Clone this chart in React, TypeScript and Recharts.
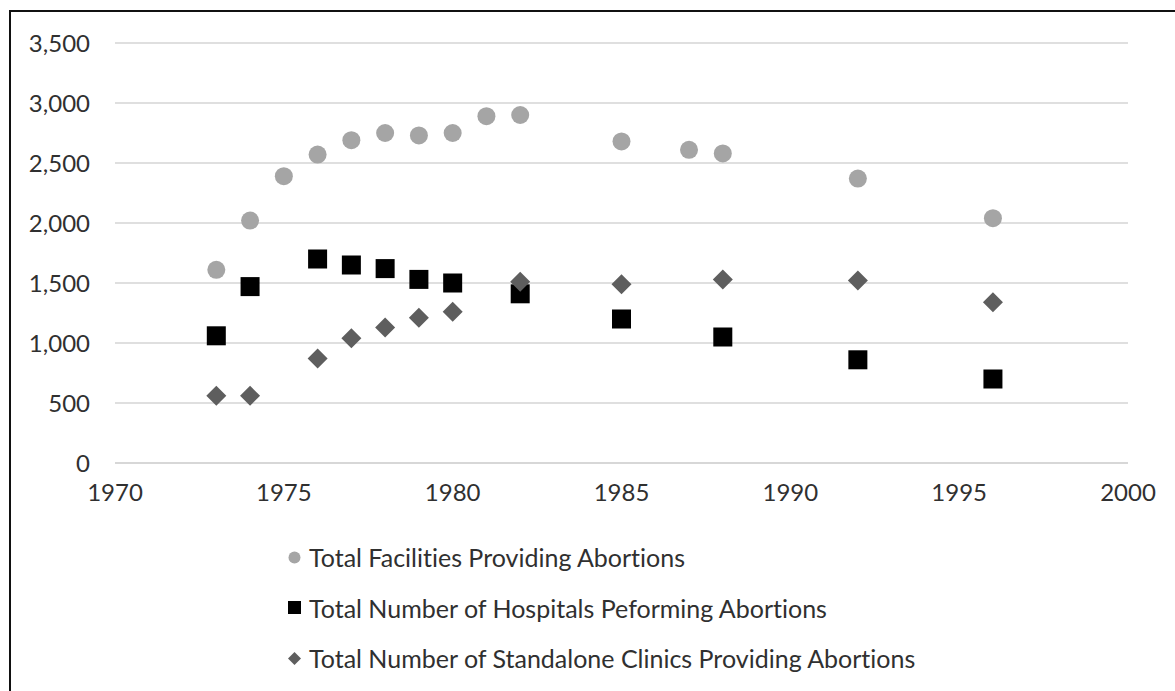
import React from 'react';
import { ScatterChart, Scatter, XAxis, YAxis, CartesianGrid, Legend } from 'recharts';

const facilityYears = [1973, 1974, 1975, 1976, 1977, 1978, 1979, 1980, 1981, 1982, 1985, 1987, 1988, 1992, 1996];
const facilityValues = [1610, 2020, 2390, 2570, 2690, 2750, 2730, 2750, 2890, 2900, 2680, 2610, 2580, 2370, 2040];

const hospitalYears = [1973, 1974, 1976, 1977, 1978, 1979, 1980, 1982, 1985, 1988, 1992, 1996];
const hospitalValues = [1060, 1470, 1700, 1650, 1620, 1530, 1500, 1410, 1200, 1050, 860, 700];

const clinicYears = [1973, 1974, 1976, 1977, 1978, 1979, 1980, 1982, 1985, 1988, 1992, 1996];
const clinicValues = [560, 560, 870, 1040, 1130, 1210, 1260, 1510, 1490, 1530, 1520, 1340];

const xTicks = [1970, 1975, 1980, 1985, 1990, 1995, 2000];
const yTicks = [0, 500, 1000, 1500, 2000, 2500, 3000, 3500];

const seriesNames = [
  'Total Facilities Providing Abortions',
  'Total Number of Hospitals Peforming Abortions',
  'Total Number of Standalone Clinics Providing Abortions',
];

const toPoints = (xs: number[], ys: number[]) => xs.map((x, i) => ({ x, y: ys[i] }));
const facilityData = toPoints(facilityYears, facilityValues);
const hospitalData = toPoints(hospitalYears, hospitalValues);
const clinicData = toPoints(clinicYears, clinicValues);

const CIRCLE_COLOR = '#a5a5a5';
const SQUARE_COLOR = '#000000';
const DIAMOND_COLOR = '#5e5e5e';
const TEXT_COLOR = '#303030';
const FONT = 'Lato, "Open Sans", sans-serif';
const FONT_SIZE = 24;

const CircleShape = (p: any) => <circle cx={p.cx} cy={p.cy} r={9} fill={CIRCLE_COLOR} />;
const SquareShape = (p: any) => (
  <rect x={p.cx - 9.5} y={p.cy - 9.5} width={19} height={19} fill={SQUARE_COLOR} />
);
const DiamondShape = (p: any) => {
  const r = 10;
  return (
    <polygon
      points={`${p.cx},${p.cy - r} ${p.cx + r},${p.cy} ${p.cx},${p.cy + r} ${p.cx - r},${p.cy}`}
      fill={DIAMOND_COLOR}
    />
  );
};

const legendMarker = (i: number) => {
  if (i === 0) return <svg width={15} height={15}><circle cx={7.5} cy={7.5} r={6} fill={CIRCLE_COLOR} /></svg>;
  if (i === 1) return <svg width={15} height={15}><rect x={1} y={1} width={13} height={13} fill={SQUARE_COLOR} /></svg>;
  return (
    <svg width={15} height={15}>
      <polygon points="7.5,1 14,7.5 7.5,14 1,7.5" fill={DIAMOND_COLOR} />
    </svg>
  );
};

const renderLegend = () => (
  <div style={{ fontFamily: FONT, fontSize: 25, color: TEXT_COLOR, fontVariantLigatures: 'none' }}>
    {seriesNames.map((n, i) => (
      <div key={n} style={{ display: 'flex', alignItems: 'center', height: 50.5, whiteSpace: 'nowrap' }}>
        <span style={{ display: 'inline-flex', width: 22 }}>{legendMarker(i)}</span>
        <span>{n}</span>
      </div>
    ))}
  </div>
);

const fmt = (v: number) => v.toLocaleString('en-US');

export default function App() {
  return (
    <div style={{ position: 'absolute', left: 0, top: 0, width: 1175, height: 691, background: '#fff', overflow: 'hidden' }}>
      <div
        style={{
          position: 'absolute',
          left: 9,
          top: 10,
          width: 1175,
          height: 691,
          borderTop: '2px solid #111',
          borderLeft: '2px solid #111',
        }}
      />
      <div style={{ position: 'absolute', left: 0, top: 0 }}>
        <ScatterChart width={1175} height={691} margin={{ top: 43, right: 47, left: 0, bottom: 188 }}>
          <CartesianGrid horizontal vertical={false} stroke="#d4d4d4" strokeWidth={1.5} />
          <XAxis
            type="number"
            dataKey="x"
            domain={[1970, 2000]}
            ticks={xTicks}
            interval={0}
            axisLine={{ stroke: '#d4d4d4', strokeWidth: 1.5 }}
            tickLine={false}
            tickSize={6}
            tickMargin={15}
            height={40}
            tick={{ fill: TEXT_COLOR, fontSize: FONT_SIZE, fontFamily: FONT }}
          />
          <YAxis
            type="number"
            dataKey="y"
            domain={[0, 3500]}
            ticks={yTicks}
            interval={0}
            axisLine={false}
            tickLine={false}
            tickSize={6}
            tickMargin={19}
            width={115}
            tickFormatter={fmt}
            tick={{ fill: TEXT_COLOR, fontSize: FONT_SIZE, fontFamily: FONT }}
          />
          <Legend
            layout="vertical"
            align="center"
            verticalAlign="middle"
            content={renderLegend}
            wrapperStyle={{ left: 287, top: 532, width: 780 }}
          />
          <Scatter name={seriesNames[0]} data={facilityData} shape={CircleShape} isAnimationActive={false} />
          <Scatter name={seriesNames[1]} data={hospitalData} shape={SquareShape} isAnimationActive={false} />
          <Scatter name={seriesNames[2]} data={clinicData} shape={DiamondShape} isAnimationActive={false} />
        </ScatterChart>
      </div>
    </div>
  );
}
